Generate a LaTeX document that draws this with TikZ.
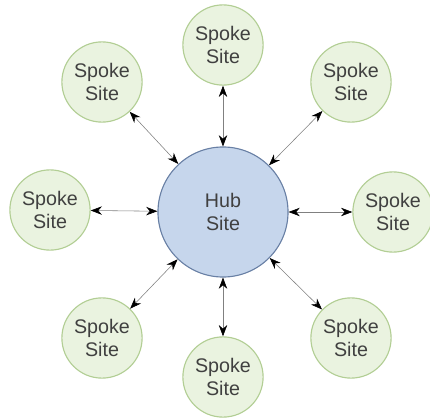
\documentclass[tikz,border=0pt]{standalone}
\usepackage{fontspec}
\setmainfont{Liberation Sans}
\usetikzlibrary{arrows.meta}
\definecolor{hubfill}{RGB}{198,214,236}
\definecolor{hubline}{RGB}{105,128,165}
\definecolor{spokefill}{RGB}{234,243,224}
\definecolor{spokeline}{RGB}{178,206,148}

\begin{document}
\begin{tikzpicture}[x=0.025cm, y=-0.025cm,
  hub/.style={circle, draw=hubline, thick, fill=hubfill, minimum size=3.25cm, align=center, text=black!75, font=\fontsize{14}{16.5}\selectfont},
  spoke/.style={circle, draw=spokeline, thick, fill=spokefill, minimum size=2cm, align=center, text=black!75, font=\fontsize{14}{16.5}\selectfont},
  link/.style={gray, thin, {Stealth[length=8pt, width=6pt, black]}-{Stealth[length=8pt, width=6pt, black]}}]
  \useasboundingbox (0,0) rectangle (430,420);
  \node[hub] (hub) at (223,212) {Hub\\Site};
  % spokes
  \node[spoke] (top) at (223,45) {Spoke\\Site};
  \node[spoke] (topleft) at (102,82) {Spoke\\Site};
  \node[spoke] (topright) at (351,82) {Spoke\\Site};
  \node[spoke] (left) at (50,210) {Spoke\\Site};
  \node[spoke] (right) at (393,212) {Spoke\\Site};
  \node[spoke] (botleft) at (102,338) {Spoke\\Site};
  \node[spoke] (bot) at (223,377) {Spoke\\Site};
  \node[spoke] (botright) at (351,338) {Spoke\\Site};
  % links
  \draw[link] (hub) -- (top);
  \draw[link] (hub) -- (topleft);
  \draw[link] (hub) -- (topright);
  \draw[link] (hub) -- (left);
  \draw[link] (hub) -- (right);
  \draw[link] (hub) -- (botleft);
  \draw[link] (hub) -- (bot);
  \draw[link] (hub) -- (botright);
\end{tikzpicture}
\end{document}
